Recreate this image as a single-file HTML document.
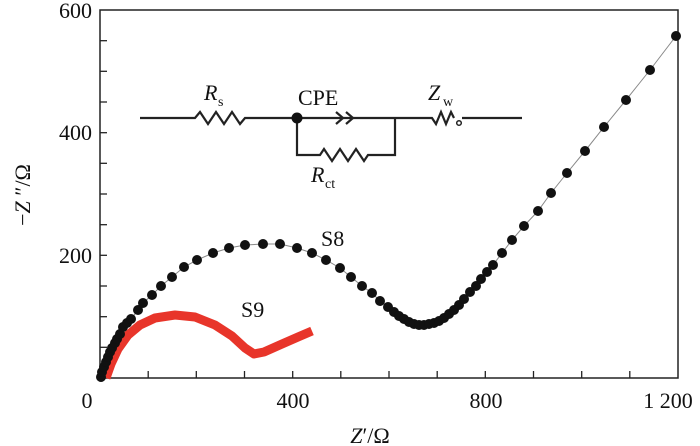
<!DOCTYPE html>
<html><head><meta charset="utf-8"><style>
body{margin:0;background:#fff;}
svg{display:block;font-family:"Liberation Serif",serif;}
</style></head><body>
<svg width="700" height="446" viewBox="0 0 700 446" xmlns="http://www.w3.org/2000/svg">
<rect width="700" height="446" fill="#fff"/>
<g stroke="#222" stroke-width="1.3">
<line x1="148.2" y1="378" x2="148.2" y2="371"/><line x1="196.3" y1="378" x2="196.3" y2="371"/><line x1="244.5" y1="378" x2="244.5" y2="371"/><line x1="292.7" y1="378" x2="292.7" y2="371"/><line x1="340.8" y1="378" x2="340.8" y2="371"/><line x1="389" y1="378" x2="389" y2="371"/><line x1="437.2" y1="378" x2="437.2" y2="371"/><line x1="485.3" y1="378" x2="485.3" y2="371"/><line x1="533.5" y1="378" x2="533.5" y2="371"/><line x1="581.7" y1="378" x2="581.7" y2="371"/><line x1="629.8" y1="378" x2="629.8" y2="371"/>
<line x1="100" y1="347.3" x2="107" y2="347.3"/><line x1="100" y1="316.7" x2="107" y2="316.7"/><line x1="100" y1="286" x2="107" y2="286"/><line x1="100" y1="255.3" x2="107" y2="255.3"/><line x1="100" y1="224.7" x2="107" y2="224.7"/><line x1="100" y1="194" x2="107" y2="194"/><line x1="100" y1="163.3" x2="107" y2="163.3"/><line x1="100" y1="132.7" x2="107" y2="132.7"/><line x1="100" y1="102" x2="107" y2="102"/><line x1="100" y1="71.3" x2="107" y2="71.3"/><line x1="100" y1="40.7" x2="107" y2="40.7"/>
</g>
<rect x="100" y="10" width="578" height="368" fill="none" stroke="#222" stroke-width="1.5"/>
<g font-size="22" fill="#111">
<text x="92" y="18" text-anchor="end">600</text>
<text x="92" y="140" text-anchor="end">400</text>
<text x="92" y="263" text-anchor="end">200</text>
<text x="87" y="408" text-anchor="middle">0</text>
<text x="293" y="408" text-anchor="middle">400</text>
<text x="486" y="408" text-anchor="middle">800</text>
<text x="668" y="408" text-anchor="middle">1 200</text>
<text x="370" y="443" text-anchor="middle"><tspan font-style="italic">Z</tspan>′/Ω</text>
<text transform="translate(30,195) rotate(-90)" text-anchor="middle">−<tspan font-style="italic">Z</tspan> ″/Ω</text>
<text x="321" y="246">S8</text>
<text x="241" y="317">S9</text>
</g>
<g stroke="#222" stroke-width="2.2" fill="none">
<path d="M140 118 H195 l5 -6 l8 12 l8 -12 l8 12 l8 -12 l8 12 l5 -6 H297 H395 H432 l4 6 l5 -12 l5 12 l5 -12 l3 6 M462 118 H522"/>
<path d="M336 112 l7 6 l-7 6 M346 112 l7 6 l-7 6"/>
<path d="M297 118 V155 H320 l4 -6 l8 12 l8 -12 l8 12 l8 -12 l8 12 l4 -6 H395 V118"/>
<circle cx="459" cy="123" r="2.3" stroke-width="1.5"/>
</g>
<circle cx="297" cy="118" r="5.5" fill="#111"/>
<g font-size="22" fill="#111">
<text x="204" y="100" font-style="italic">R</text><text x="218" y="106" font-size="14">s</text>
<text x="298" y="105">CPE</text>
<text x="428" y="100" font-style="italic">Z</text><text x="443" y="106" font-size="14">w</text>
<text x="311" y="182" font-style="italic">R</text><text x="325" y="188" font-size="14">ct</text>
</g>
<polyline fill="none" stroke="#e8352a" stroke-width="9" stroke-linejoin="round" points="106,378 111,364 118,349 128,335 140,325 155,318 175,315 195,317 215,325 232,336 245,348 254,354 264,352 282,344 298,337 312,331"/>
<polyline fill="none" stroke="#888" stroke-width="1" points="101,377 102,372 104,367 106,362 108,357 110,352 112,348 115,343 117,339 120,334 123,327 127,323 131,319 138,310 143,303 152,295 161,286 172,277 184,267 197,260 213,253 229,248 245,245 263,244 280,244 297,248 312,253 326,260 340,268 351,277 362,286 372,293 380,301 388,307 394,312 399,316 404,319 409,322 414,324 419,325 424,325 429,324 434,323 439,321 444,318 449,314 454,310 459,305 464,299 470,292 476,286 481,279 487,272 493,265 502,253 512,240 524,226 538,211 551,193 567,173 585,151 604,127 626,100 650,70 676,36"/>
<g fill="#111">
<circle cx="101" cy="377" r="5"/><circle cx="102" cy="372" r="5"/><circle cx="104" cy="367" r="5"/><circle cx="106" cy="362" r="5"/><circle cx="108" cy="357" r="5"/><circle cx="110" cy="352" r="5"/><circle cx="112" cy="348" r="5"/><circle cx="115" cy="343" r="5"/><circle cx="117" cy="339" r="5"/><circle cx="120" cy="334" r="5"/><circle cx="123" cy="327" r="5"/><circle cx="127" cy="323" r="5"/><circle cx="131" cy="319" r="5"/><circle cx="138" cy="310" r="5"/><circle cx="143" cy="303" r="5"/><circle cx="152" cy="295" r="5"/><circle cx="161" cy="286" r="5"/><circle cx="172" cy="277" r="5"/><circle cx="184" cy="267" r="5"/><circle cx="197" cy="260" r="5"/><circle cx="213" cy="253" r="5"/><circle cx="229" cy="248" r="5"/><circle cx="245" cy="245" r="5"/><circle cx="263" cy="244" r="5"/><circle cx="280" cy="244" r="5"/><circle cx="297" cy="248" r="5"/><circle cx="312" cy="253" r="5"/><circle cx="326" cy="260" r="5"/><circle cx="340" cy="268" r="5"/><circle cx="351" cy="277" r="5"/><circle cx="362" cy="286" r="5"/><circle cx="372" cy="293" r="5"/><circle cx="380" cy="301" r="5"/><circle cx="388" cy="307" r="5"/><circle cx="394" cy="312" r="5"/><circle cx="399" cy="316" r="5"/><circle cx="404" cy="319" r="5"/><circle cx="409" cy="322" r="5"/><circle cx="414" cy="324" r="5"/><circle cx="419" cy="325" r="5"/><circle cx="424" cy="325" r="5"/><circle cx="429" cy="324" r="5"/><circle cx="434" cy="323" r="5"/><circle cx="439" cy="321" r="5"/><circle cx="444" cy="318" r="5"/><circle cx="449" cy="314" r="5"/><circle cx="454" cy="310" r="5"/><circle cx="459" cy="305" r="5"/><circle cx="464" cy="299" r="5"/><circle cx="470" cy="292" r="5"/><circle cx="476" cy="286" r="5"/><circle cx="481" cy="279" r="5"/><circle cx="487" cy="272" r="5"/><circle cx="493" cy="265" r="5"/><circle cx="502" cy="253" r="5"/><circle cx="512" cy="240" r="5"/><circle cx="524" cy="226" r="5"/><circle cx="538" cy="211" r="5"/><circle cx="551" cy="193" r="5"/><circle cx="567" cy="173" r="5"/><circle cx="585" cy="151" r="5"/><circle cx="604" cy="127" r="5"/><circle cx="626" cy="100" r="5"/><circle cx="650" cy="70" r="5"/><circle cx="676" cy="36" r="5"/>
</g>
</svg>
</body></html>
